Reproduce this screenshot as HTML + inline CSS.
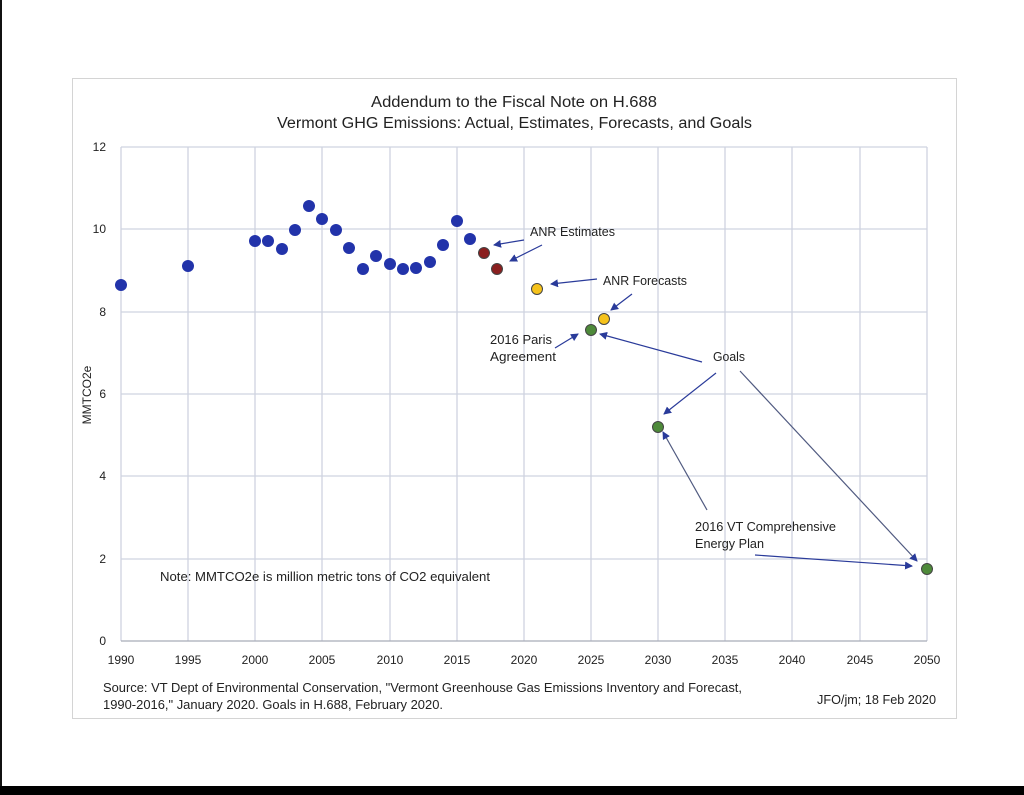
<!DOCTYPE html>
<html><head><meta charset="utf-8"><style>
html,body{margin:0;padding:0;background:#fff;}
svg{display:block;}
text{font-family:"Liberation Sans",sans-serif;fill:#222;}
</style></head><body>
<svg width="1024" height="795" viewBox="0 0 1024 795" xmlns="http://www.w3.org/2000/svg">
<defs><marker id="a" markerWidth="8" markerHeight="8" refX="7" refY="4" orient="auto" markerUnits="userSpaceOnUse"><path d="M0,0 L8,4 L0,8 z" fill="#2a3b9a"/></marker></defs>
<rect width="1024" height="795" fill="#fff"/>
<rect x="0" y="0" width="2" height="795" fill="#111"/>
<rect x="0" y="786" width="1024" height="9" fill="#000"/>
<rect x="72.5" y="78.5" width="884" height="640" fill="none" stroke="#d4d4d4"/>
<text x="371" y="107" font-size="15.5" textLength="286" lengthAdjust="spacingAndGlyphs">Addendum to the Fiscal Note on H.688</text>
<text x="277" y="128" font-size="15.5" textLength="475" lengthAdjust="spacingAndGlyphs">Vermont GHG Emissions: Actual, Estimates, Forecasts, and Goals</text>
<g stroke="#cfd3e0" stroke-width="1.3">
<line x1="121" y1="147" x2="927" y2="147"/><line x1="121" y1="229" x2="927" y2="229"/><line x1="121" y1="312" x2="927" y2="312"/><line x1="121" y1="394" x2="927" y2="394"/><line x1="121" y1="476" x2="927" y2="476"/><line x1="121" y1="559" x2="927" y2="559"/>
<line x1="121" y1="147" x2="121" y2="641"/><line x1="188" y1="147" x2="188" y2="641"/><line x1="255" y1="147" x2="255" y2="641"/><line x1="322" y1="147" x2="322" y2="641"/><line x1="390" y1="147" x2="390" y2="641"/><line x1="457" y1="147" x2="457" y2="641"/><line x1="524" y1="147" x2="524" y2="641"/><line x1="591" y1="147" x2="591" y2="641"/><line x1="658" y1="147" x2="658" y2="641"/><line x1="725" y1="147" x2="725" y2="641"/><line x1="792" y1="147" x2="792" y2="641"/><line x1="860" y1="147" x2="860" y2="641"/><line x1="927" y1="147" x2="927" y2="641"/>
</g>
<line x1="121" y1="641" x2="927" y2="641" stroke="#a8acb8" stroke-width="1.3"/>
<g font-size="12" text-anchor="end">
<text x="106" y="151">12</text><text x="106" y="233">10</text><text x="106" y="316">8</text><text x="106" y="398">6</text><text x="106" y="480">4</text><text x="106" y="563">2</text><text x="106" y="645">0</text>
</g>
<g font-size="12" text-anchor="middle">
<text x="121" y="664">1990</text><text x="188" y="664">1995</text><text x="255" y="664">2000</text><text x="322" y="664">2005</text><text x="390" y="664">2010</text><text x="457" y="664">2015</text><text x="524" y="664">2020</text><text x="591" y="664">2025</text><text x="658" y="664">2030</text><text x="725" y="664">2035</text><text x="792" y="664">2040</text><text x="860" y="664">2045</text><text x="927" y="664">2050</text>
</g>
<text transform="translate(91,395) rotate(-90)" font-size="12" text-anchor="middle">MMTCO2e</text>
<g fill="#2233aa">
<circle cx="121" cy="285" r="6"/><circle cx="188" cy="266" r="6"/><circle cx="255" cy="241" r="6"/><circle cx="268" cy="241" r="6"/><circle cx="282" cy="249" r="6"/><circle cx="295" cy="230" r="6"/><circle cx="309" cy="206" r="6"/><circle cx="322" cy="219" r="6"/><circle cx="336" cy="230" r="6"/><circle cx="349" cy="248" r="6"/><circle cx="363" cy="269" r="6"/><circle cx="376" cy="256" r="6"/><circle cx="390" cy="264" r="6"/><circle cx="403" cy="269" r="6"/><circle cx="416" cy="268" r="6"/><circle cx="430" cy="262" r="6"/><circle cx="443" cy="245" r="6"/><circle cx="457" cy="221" r="6"/><circle cx="470" cy="239" r="6"/>
</g>
<g stroke="#444" stroke-width="1">
<circle cx="484" cy="253" r="5.5" fill="#8a1f1f"/><circle cx="497" cy="269" r="5.5" fill="#8a1f1f"/>
<circle cx="537" cy="289" r="5.5" fill="#f5c21b"/><circle cx="604" cy="319" r="5.5" fill="#f5c21b"/>
<circle cx="591" cy="330" r="5.5" fill="#4e8a3a"/><circle cx="658" cy="427" r="5.5" fill="#4e8a3a"/><circle cx="927" cy="569" r="5.5" fill="#4e8a3a"/>
</g>
<g stroke="#2a3b9a" stroke-width="1.2" marker-end="url(#a)">
<line x1="524" y1="240" x2="494" y2="245"/><line x1="542" y1="245" x2="510" y2="261"/>
<line x1="597" y1="279" x2="551" y2="284"/><line x1="632" y1="294" x2="611" y2="310"/>
<line x1="555" y1="348" x2="578" y2="334"/>
<line x1="702" y1="362" x2="600" y2="334"/><line x1="716" y1="373" x2="664" y2="414"/>
<line x1="740" y1="371" x2="917" y2="561" stroke="#505a80"/>
<line x1="707" y1="510" x2="663" y2="432" stroke="#505a80"/><line x1="755" y1="555" x2="912" y2="566"/>
</g>
<g font-size="12.5" lengthAdjust="spacingAndGlyphs">
<text x="530" y="236" textLength="85" lengthAdjust="spacingAndGlyphs">ANR Estimates</text>
<text x="603" y="285" textLength="84" lengthAdjust="spacingAndGlyphs">ANR Forecasts</text>
<text x="490" y="344" textLength="62" lengthAdjust="spacingAndGlyphs">2016 Paris</text><text x="490" y="361" textLength="66" lengthAdjust="spacingAndGlyphs">Agreement</text>
<text x="713" y="361" textLength="32" lengthAdjust="spacingAndGlyphs">Goals</text>
<text x="695" y="531" textLength="141" lengthAdjust="spacingAndGlyphs">2016 VT Comprehensive</text><text x="695" y="548" textLength="69" lengthAdjust="spacingAndGlyphs">Energy Plan</text>
<text x="160" y="581" textLength="330" lengthAdjust="spacingAndGlyphs">Note: MMTCO2e is million metric tons of CO2 equivalent</text>
<text x="103" y="692" textLength="639" lengthAdjust="spacingAndGlyphs">Source: VT Dept of Environmental Conservation, "Vermont Greenhouse Gas Emissions Inventory and Forecast,</text>
<text x="103" y="709" textLength="340" lengthAdjust="spacingAndGlyphs">1990-2016," January 2020. Goals in H.688, February 2020.</text>
<text x="817" y="704" textLength="119" lengthAdjust="spacingAndGlyphs">JFO/jm; 18 Feb 2020</text>
</g>
</svg>
</body></html>
